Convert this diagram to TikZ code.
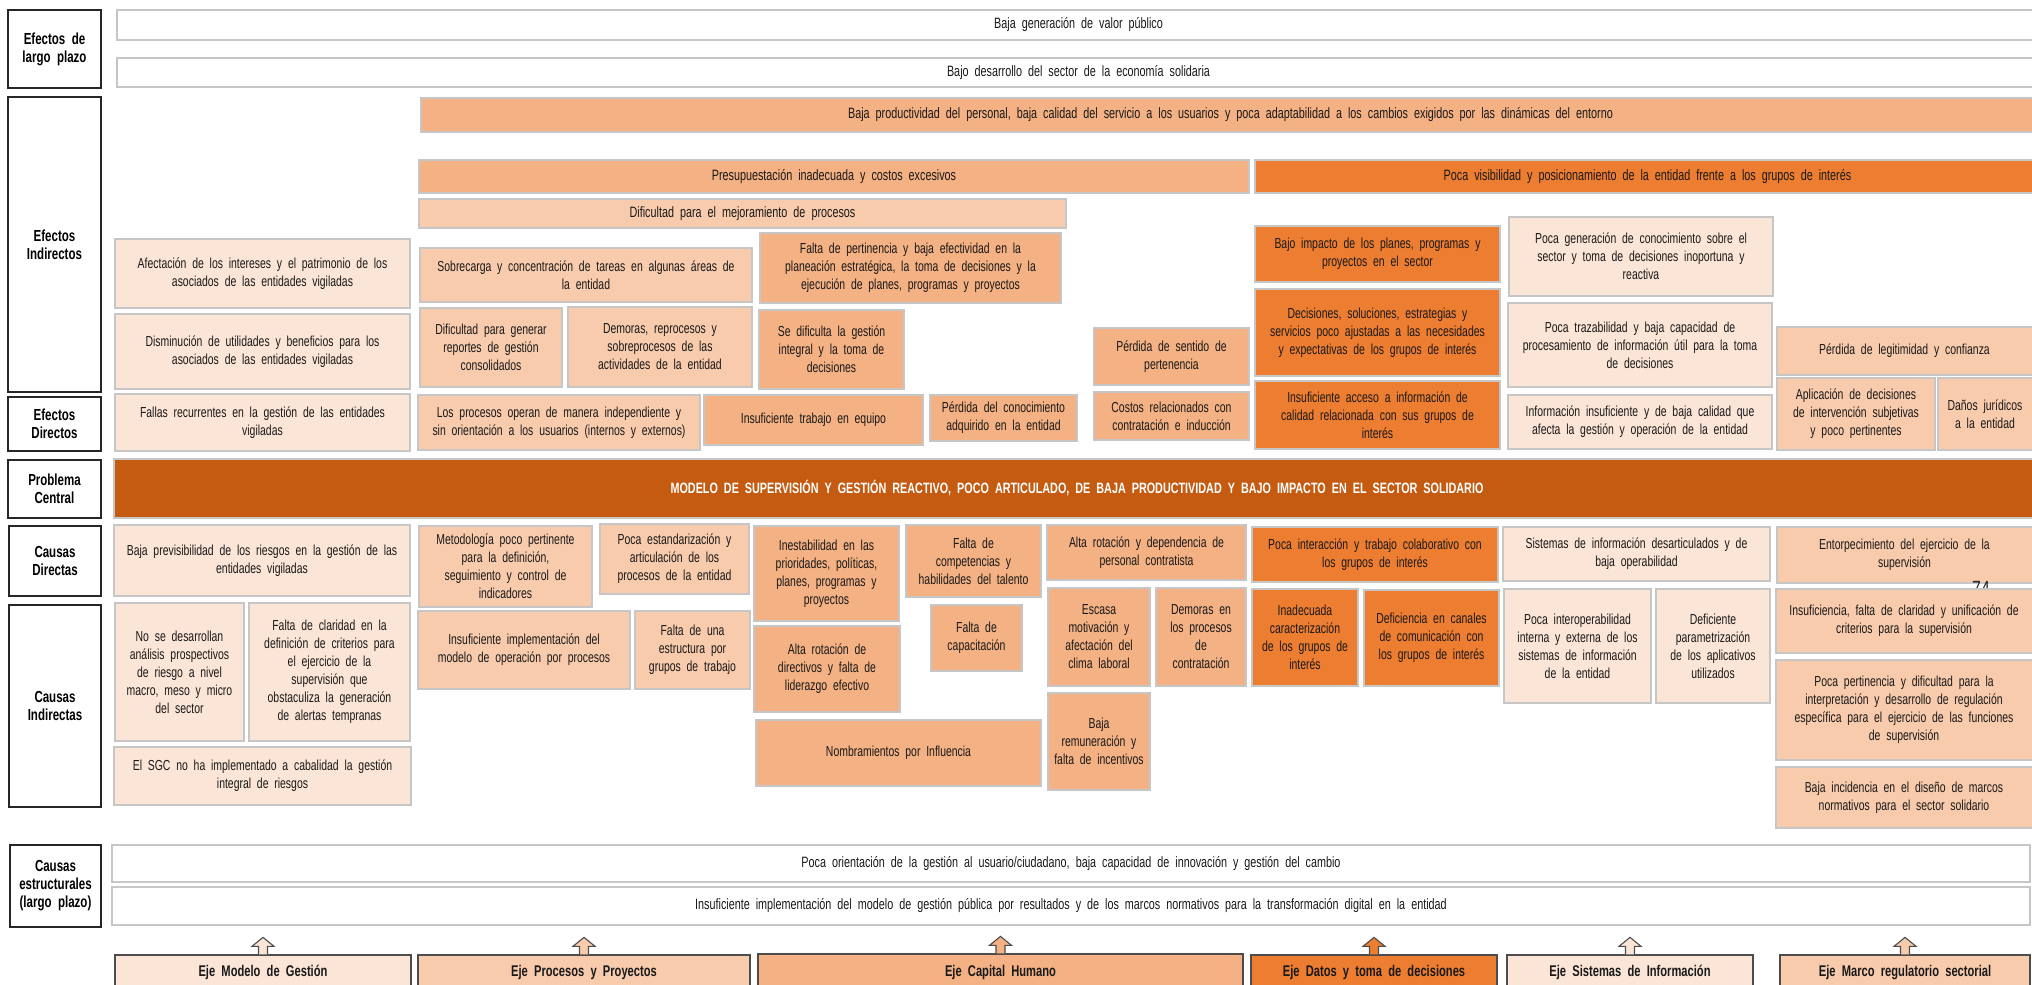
\documentclass[tikz,border=0pt]{standalone}
\usepackage{fontspec}
\setmainfont{Liberation Sans}[FakeStretch=0.72,WordSpace=2]
\usetikzlibrary{fit,calc}

\definecolor{tonoA}{HTML}{FBE5D6}
\definecolor{tonoB}{HTML}{F8CBAD}
\definecolor{tonoC}{HTML}{F4B183}
\definecolor{tonoD}{HTML}{ED7D31}
\definecolor{tonoE}{HTML}{C55A11}

\tikzset{
  caja/.style={draw=gray!45, line width=1.1pt, inner sep=0pt},
  rotulo/.style={draw=black!85, line width=1.6pt, fill=white, inner sep=0pt},
  eje/.style={draw=black!70, line width=1.3pt, inner sep=0pt},
  flecha/.style={draw=black!70, line width=1.1pt, line join=miter},
  texto/.style={inner sep=0pt, align=center, text=black!90, font=\fontsize{14.5}{18}\selectfont},
  textofr/.style={texto, font=\fontsize{15}{17}\selectfont},
  textorot/.style={texto, text=black, font=\bfseries\fontsize{16}{18}\selectfont},
  textoeje/.style={texto, font=\bfseries\fontsize{15.5}{18}\selectfont},
  textocen/.style={texto, text=white, font=\bfseries\fontsize{15}{18}\selectfont}
}

\begin{document}
\begin{tikzpicture}[x=1pt,y=1pt,yscale=-1]
\useasboundingbox (0,0) rectangle (2032,985);
\clip (0,0) rectangle (2032,985);

% Rotulos de la izquierda
\node[rotulo, fit={(8,10) (101,88)}] (rlargo) {};
\node[textorot] (rlargo-t) at (rlargo) {Efectos de\\largo plazo};
\node[rotulo, fit={(8,97) (101,392)}] (rindir) {};
\node[textorot] (rindir-t) at (rindir) {Efectos\\Indirectos};
\node[rotulo, fit={(8,397) (101,451)}] (rdir) {};
\node[textorot] (rdir-t) at (rdir) {Efectos\\Directos};
\node[rotulo, fit={(8,460) (101,518)}] (rcentral) {};
\node[textorot] (rcentral-t) at (rcentral) {Problema\\Central};
\node[rotulo, fit={(9,526) (101,596)}] (rcdir) {};
\node[textorot] (rcdir-t) at (rcdir) {Causas\\Directas};
\node[rotulo, fit={(9,605) (101,807)}] (rcind) {};
\node[textorot] (rcind-t) at (rcind) {Causas\\Indirectas};
\node[rotulo, fit={(10,845) (101,927)}] (rcest) {};
\node[textorot] (rcest-t) at (rcest) {Causas\\estructurales\\(largo plazo)};

% Efectos de largo plazo
\node[caja, fill=white, fit={(117,10) (2040,40)}] (valor) {};
\node[textofr] (valor-t) at (valor) {Baja generación de valor público};
\node[caja, fill=white, fit={(117,58) (2040,87)}] (desarr) {};
\node[textofr] (desarr-t) at (desarr) {Bajo desarrollo del sector de la economía solidaria};

% Efectos indirectos
\node[caja, fill=tonoC, fit={(421,98) (2040,132)}] (product) {};
\node[textofr] (product-t) at (product) {Baja productividad del personal, baja calidad del servicio a los usuarios y poca adaptabilidad a los cambios exigidos por las dinámicas del entorno};
\node[caja, fill=tonoC, fit={(419,160) (1249,193)}] (presup) {};
\node[textofr] (presup-t) at (presup) {Presupuestación inadecuada y costos excesivos};
\node[caja, fill=tonoD, fit={(1255,160) (2040,193)}] (visib) {};
\node[textofr] (visib-t) at (visib) {Poca visibilidad y posicionamiento de la entidad frente a los grupos de interés};
\node[caja, fill=tonoB, fit={(419,199) (1066,228)}] (mejor) {};
\node[textofr] (mejor-t) at (mejor) {Dificultad para el mejoramiento de procesos};

\node[caja, fill=tonoA, fit={(115,239) (410,308)}] (afect) {};
\node[texto] (afect-t) at (afect) {Afectación de los intereses y el patrimonio de los\\asociados de las entidades vigiladas};
\node[caja, fill=tonoA, fit={(115,314) (410,389)}] (dismi) {};
\node[texto] (dismi-t) at (dismi) {Disminución de utilidades y beneficios para los\\asociados de las entidades vigiladas};
\node[caja, fill=tonoB, fit={(420,248) (752,302)}] (sobrec) {};
\node[texto] (sobrec-t) at (sobrec) {Sobrecarga y concentración de tareas en algunas áreas de\\la entidad};
\node[caja, fill=tonoB, fit={(420,308) (562,387)}] (reportes) {};
\node[texto] (reportes-t) at (reportes) {Dificultad para generar\\reportes de gestión\\consolidados};
\node[caja, fill=tonoB, fit={(568,307) (752,387)}] (demoras) {};
\node[texto] (demoras-t) at (demoras) {Demoras, reprocesos y\\sobreprocesos de las\\actividades de la entidad};
\node[caja, fill=tonoC, fit={(760,233) (1061,303)}] (pertin) {};
\node[texto] (pertin-t) at (pertin) {Falta de pertinencia y baja efectividad en la\\planeación estratégica, la toma de decisiones y la\\ejecución de planes, programas y proyectos};
\node[caja, fill=tonoC, fit={(759,310) (904,389)}] (dificg) {};
\node[texto] (dificg-t) at (dificg) {Se dificulta la gestión\\integral y la toma de\\decisiones};
\node[caja, fill=tonoC, fit={(1094,328) (1249,385)}] (sentido) {};
\node[texto] (sentido-t) at (sentido) {Pérdida de sentido de\\pertenencia};
\node[caja, fill=tonoD, fit={(1255,226) (1500,282)}] (impacto) {};
\node[texto] (impacto-t) at (impacto) {Bajo impacto de los planes, programas y\\proyectos en el sector};
\node[caja, fill=tonoD, fit={(1255,289) (1500,376)}] (decis) {};
\node[texto] (decis-t) at (decis) {Decisiones, soluciones, estrategias y\\servicios poco ajustadas a las necesidades\\y expectativas de los grupos de interés};
\node[caja, fill=tonoA, fit={(1509,217) (1773,296)}] (conoc) {};
\node[texto] (conoc-t) at (conoc) {Poca generación de conocimiento sobre el\\sector y toma de decisiones inoportuna y\\reactiva};
\node[caja, fill=tonoA, fit={(1508,303) (1772,387)}] (trazab) {};
\node[texto] (trazab-t) at (trazab) {Poca trazabilidad y baja capacidad de\\procesamiento de información útil para la toma\\de decisiones};
\node[caja, fill=tonoB, fit={(1777,327) (2040,375)}] (legit) {};
\node[texto] (legit-t) at ($(legit)+(-4,0)$) {Pérdida de legitimidad y confianza};

% Efectos directos
\node[caja, fill=tonoA, fit={(115,394) (410,451)}] (fallas) {};
\node[texto] (fallas-t) at (fallas) {Fallas recurrentes en la gestión de las entidades\\vigiladas};
\node[caja, fill=tonoB, fit={(418,395) (700,450)}] (procind) {};
\node[texto] (procind-t) at (procind) {Los procesos operan de manera independiente y\\sin orientación a los usuarios (internos y externos)};
\node[caja, fill=tonoC, fit={(704,395) (923,445)}] (trabeq) {};
\node[texto] (trabeq-t) at (trabeq) {Insuficiente trabajo en equipo};
\node[caja, fill=tonoC, fit={(930,395) (1077,441)}] (perdcon) {};
\node[texto] (perdcon-t) at (perdcon) {Pérdida del conocimiento\\adquirido en la entidad};
\node[caja, fill=tonoC, fit={(1094,392) (1249,440)}] (costos) {};
\node[texto] (costos-t) at (costos) {Costos relacionados con\\contratación e inducción};
\node[caja, fill=tonoD, fit={(1255,381) (1500,449)}] (acceso) {};
\node[texto] (acceso-t) at (acceso) {Insuficiente acceso a información de\\calidad relacionada con sus grupos de\\interés};
\node[caja, fill=tonoA, fit={(1508,395) (1772,449)}] (infoins) {};
\node[texto] (infoins-t) at (infoins) {Información insuficiente y de baja calidad que\\afecta la gestión y operación de la entidad};
\node[caja, fill=tonoB, fit={(1777,378) (1935,450)}] (aplic) {};
\node[texto] (aplic-t) at (aplic) {Aplicación de decisiones\\de intervención subjetivas\\y poco pertinentes};
\node[caja, fill=tonoB, fit={(1938,378) (2040,450)}] (danos) {};
\node[texto] (danos-t) at ($(danos)+(-4,0)$) {Daños jurídicos\\a la entidad};

% Problema central
\node[caja, fill=tonoE, fit={(114,459) (2040,518)}] (central) {};
\node[textocen] (central-t) at (central) {MODELO DE SUPERVISIÓN Y GESTIÓN REACTIVO, POCO ARTICULADO, DE BAJA PRODUCTIVIDAD Y BAJO IMPACTO EN EL SECTOR SOLIDARIO};

% Causas directas
\node[caja, fill=tonoA, fit={(114,525) (410,596)}] (previs) {};
\node[texto] (previs-t) at (previs) {Baja previsibilidad de los riesgos en la gestión de las\\entidades vigiladas};
\node[caja, fill=tonoB, fit={(419,526) (592,607)}] (metod) {};
\node[texto] (metod-t) at (metod) {Metodología poco pertinente\\para la definición,\\seguimiento y control de\\indicadores};
\node[caja, fill=tonoB, fit={(600,524) (749,594)}] (estand) {};
\node[texto] (estand-t) at (estand) {Poca estandarización y\\articulación de los\\procesos de la entidad};
\node[caja, fill=tonoC, fit={(754,526) (899,621)}] (inestab) {};
\node[texto] (inestab-t) at (inestab) {Inestabilidad en las\\prioridades, políticas,\\planes, programas y\\proyectos};
\node[caja, fill=tonoC, fit={(906,525) (1041,597)}] (compet) {};
\node[texto] (compet-t) at (compet) {Falta de\\competencias y\\habilidades del talento};
\node[caja, fill=tonoC, fit={(1047,525) (1246,580)}] (contrat) {};
\node[texto] (contrat-t) at (contrat) {Alta rotación y dependencia de\\personal contratista};
\node[caja, fill=tonoD, fit={(1252,527) (1498,582)}] (interac) {};
\node[texto] (interac-t) at (interac) {Poca interacción y trabajo colaborativo con\\los grupos de interés};
\node[caja, fill=tonoA, fit={(1503,527) (1770,581)}] (sistem) {};
\node[texto] (sistem-t) at (sistem) {Sistemas de información desarticulados y de\\baja operabilidad};
\node[caja, fill=tonoB, fit={(1777,527) (2040,583)}] (entorp) {};
\node[texto] (entorp-t) at ($(entorp)+(-4,0)$) {Entorpecimiento del ejercicio de la\\supervisión};

% Text Node
\node[text=black!85, font=\fontsize{22}{22}\selectfont] (numpag) at (1981,589) {74};

% Causas indirectas
\node[caja, fill=tonoA, fit={(115,603) (244,741)}] (noanal) {};
\node[texto] (noanal-t) at (noanal) {No se desarrollan\\análisis prospectivos\\de riesgo a nivel\\macro, meso y micro\\del sector};
\node[caja, fill=tonoA, fit={(249,603) (410,741)}] (claridad) {};
\node[texto] (claridad-t) at (claridad) {Falta de claridad en la\\definición de criterios para\\el ejercicio de la\\supervisión que\\obstaculiza la generación\\de alertas tempranas};
\node[caja, fill=tonoA, fit={(114,747) (411,805)}] (sgc) {};
\node[texto] (sgc-t) at (sgc) {El SGC no ha implementado a cabalidad la gestión\\integral de riesgos};
\node[caja, fill=tonoB, fit={(418,611) (630,689)}] (implop) {};
\node[texto] (implop-t) at (implop) {Insuficiente implementación del\\modelo de operación por procesos};
\node[caja, fill=tonoB, fit={(635,611) (750,689)}] (estruc) {};
\node[texto] (estruc-t) at (estruc) {Falta de una\\estructura por\\grupos de trabajo};
\node[caja, fill=tonoC, fit={(754,626) (900,712)}] (altarot) {};
\node[texto] (altarot-t) at (altarot) {Alta rotación de\\directivos y falta de\\liderazgo efectivo};
\node[caja, fill=tonoC, fit={(756,720) (1041,786)}] (nombr) {};
\node[texto] (nombr-t) at (nombr) {Nombramientos por Influencia};
\node[caja, fill=tonoC, fit={(931,605) (1022,671)}] (capac) {};
\node[texto] (capac-t) at (capac) {Falta de\\capacitación};
\node[caja, fill=tonoC, fit={(1048,588) (1150,686)}] (motiv) {};
\node[texto] (motiv-t) at (motiv) {Escasa\\motivación y\\afectación del\\clima laboral};
\node[caja, fill=tonoC, fit={(1156,588) (1246,686)}] (demcont) {};
\node[texto] (demcont-t) at (demcont) {Demoras en\\los procesos\\de\\contratación};
\node[caja, fill=tonoC, fit={(1048,693) (1150,790)}] (remun) {};
\node[texto] (remun-t) at (remun) {Baja\\remuneración y\\falta de incentivos};
\node[caja, fill=tonoD, fit={(1252,589) (1358,686)}] (caract) {};
\node[texto] (caract-t) at (caract) {Inadecuada\\caracterización\\de los grupos de\\interés};
\node[caja, fill=tonoD, fit={(1364,590) (1499,686)}] (canales) {};
\node[texto] (canales-t) at (canales) {Deficiencia en canales\\de comunicación con\\los grupos de interés};
\node[caja, fill=tonoA, fit={(1504,589) (1651,703)}] (interop) {};
\node[texto] (interop-t) at (interop) {Poca interoperabilidad\\interna y externa de los\\sistemas de información\\de la entidad};
\node[caja, fill=tonoA, fit={(1656,589) (1770,703)}] (param) {};
\node[texto] (param-t) at (param) {Deficiente\\parametrización\\de los aplicativos\\utilizados};
\node[caja, fill=tonoB, fit={(1776,589) (2040,653)}] (insufc) {};
\node[texto] (insufc-t) at ($(insufc)+(-4,0)$) {Insuficiencia, falta de claridad y unificación de\\criterios para la supervisión};
\node[caja, fill=tonoB, fit={(1776,660) (2040,760)}] (pertreg) {};
\node[texto] (pertreg-t) at ($(pertreg)+(-4,0)$) {Poca pertinencia y dificultad para la\\interpretación y desarrollo de regulación\\específica para el ejercicio de las funciones\\de supervisión};
\node[caja, fill=tonoB, fit={(1776,767) (2040,828)}] (bajainc) {};
\node[texto] (bajainc-t) at ($(bajainc)+(-4,0)$) {Baja incidencia en el diseño de marcos\\normativos para el sector solidario};

% Causas estructurales
\node[caja, fill=white, fit={(112,845) (2030,882)}] (orient) {};
\node[textofr] (orient-t) at (orient) {Poca orientación de la gestión al usuario/ciudadano, baja capacidad de innovación y gestión del cambio};
\node[caja, fill=white, fit={(112,887) (2030,925)}] (implgp) {};
\node[textofr] (implgp-t) at (implgp) {Insuficiente implementación del modelo de gestión pública por resultados y de los marcos normativos para la transformación digital en la entidad};

% Ejes
\node[eje, fill=tonoA, fit={(115,955) (411,990)}] (emod) {};
\node[textoeje] (emod-t) at (emod) {Eje Modelo de Gestión};
\node[eje, fill=tonoB, fit={(418,955) (750,990)}] (eproc) {};
\node[textoeje] (eproc-t) at (eproc) {Eje Procesos y Proyectos};
\node[eje, fill=tonoC, fit={(758,954) (1243,990)}] (ecap) {};
\node[textoeje] (ecap-t) at (ecap) {Eje Capital Humano};
\node[eje, fill=tonoD, fit={(1251,955) (1497,990)}] (edat) {};
\node[textoeje] (edat-t) at (edat) {Eje Datos y toma de decisiones};
\node[eje, fill=tonoA, fit={(1507,955) (1753,990)}] (esis) {};
\node[textoeje] (esis-t) at (esis) {Eje Sistemas de Información};
\node[eje, fill=tonoB, fit={(1780,955) (2030,990)}] (emar) {};
\node[textoeje] (emar-t) at (emar) {Eje Marco regulatorio sectorial};

% Flechas de los ejes
\draw[flecha, fill=tonoA] (emod.north) ++(-4.5,0) -- ++(0,-8) -- ++(-6.5,0) -- ++(11,-9) -- ++(11,9) -- ++(-6.5,0) -- ++(0,8);
\draw[flecha, fill=tonoB] (eproc.north) ++(-4.5,0) -- ++(0,-8) -- ++(-6.5,0) -- ++(11,-9) -- ++(11,9) -- ++(-6.5,0) -- ++(0,8);
\draw[flecha, fill=tonoC] (ecap.north) ++(-4.5,0) -- ++(0,-8) -- ++(-6.5,0) -- ++(11,-9) -- ++(11,9) -- ++(-6.5,0) -- ++(0,8);
\draw[flecha, fill=tonoD] (edat.north) ++(-4.5,0) -- ++(0,-8) -- ++(-6.5,0) -- ++(11,-9) -- ++(11,9) -- ++(-6.5,0) -- ++(0,8);
\draw[flecha, fill=tonoA] (esis.north) ++(-4.5,0) -- ++(0,-8) -- ++(-6.5,0) -- ++(11,-9) -- ++(11,9) -- ++(-6.5,0) -- ++(0,8);
\draw[flecha, fill=tonoB] (emar.north) ++(-4.5,0) -- ++(0,-8) -- ++(-6.5,0) -- ++(11,-9) -- ++(11,9) -- ++(-6.5,0) -- ++(0,8);

\end{tikzpicture}
\end{document}
